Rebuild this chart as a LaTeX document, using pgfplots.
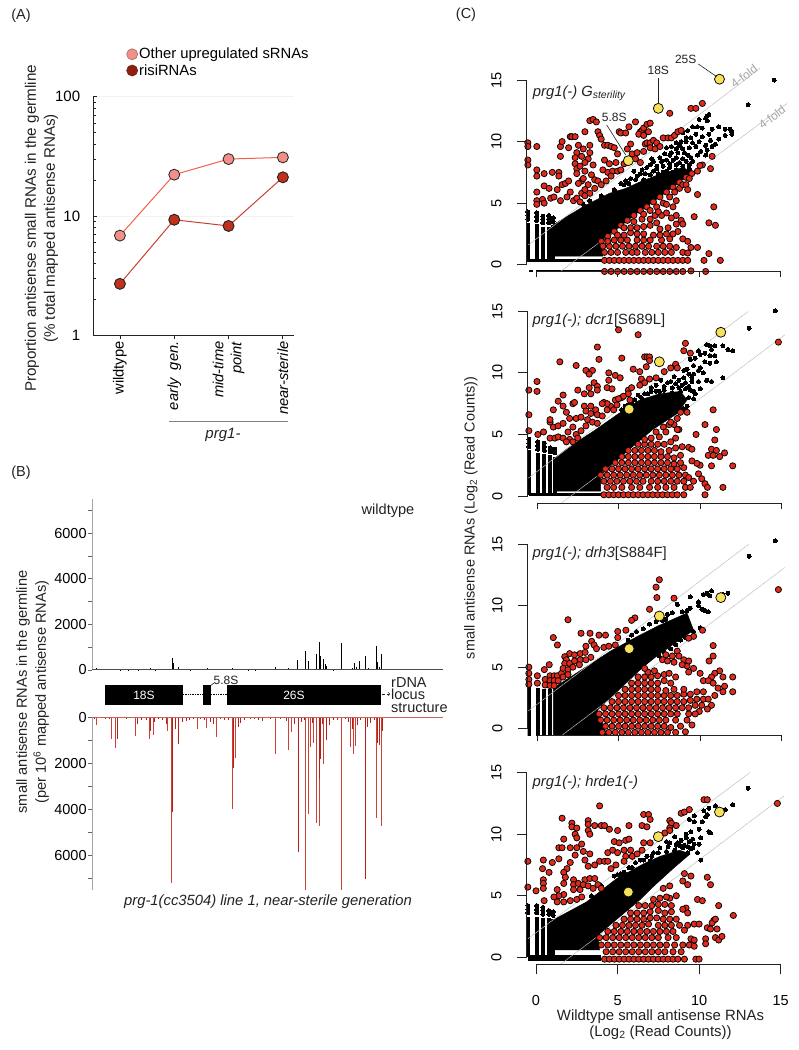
\documentclass[border=0pt]{standalone}
\usepackage{fontspec}
\setmainfont{Liberation Sans}
\usepackage{pgfplots}
\pgfplotsset{compat=1.18}
\definecolor{ptred}{HTML}{E22A1C}
\definecolor{ptyel}{HTML}{F6E15A}
\definecolor{ink}{HTML}{222222}
\definecolor{darkbar}{HTML}{B42018}
\definecolor{lightbar}{HTML}{CC4036}
\definecolor{ptpink}{HTML}{F09088}
\definecolor{HTMLrisi}{HTML}{8E2010}
\definecolor{fillrisi}{HTML}{C0301A}
\definecolor{lineone}{HTML}{F0604A}
\definecolor{linetwo}{HTML}{C84030}
\pgfplotsset{
  /pgf/number format/assume math mode=true,
  /pgf/number format/1000 sep={},
  cpanel/.style={
    anchor=origin, x=16.31pt, y=12.31pt,
    xmin=-0.57, xmax=15.4, ymin=-0.57, ymax=16.5,
    axis x line*=bottom, axis y line*=left,
    axis line style={draw=none},
    xtick={0,5,10,15}, ytick={0,5,10,15},
    tick align=outside, major tick length=10pt,
    tick style={ink, line width=0.8pt},
    yticklabel style={rotate=90, anchor=south, font=\fontsize{14.5}{15}\selectfont, inner sep=0pt, yshift=15pt},
    after end axis/.code={
      \draw[ink, line width=0.8pt] (axis cs:-0.57,0) -- (axis cs:-0.57,15);
      \draw[ink, line width=0.8pt] (axis cs:0,-0.57) -- (axis cs:15,-0.57);
    },
  },
  shortx/.style={xticklabels={}, xtick style={/pgfplots/major tick length=5.5pt}},
  redpt/.style={only marks, mark=*, mark size=3.1pt, mark options={fill=ptred, draw=black, line width=0.75pt}},
  blkpt/.style={only marks, mark=*, mark size=2pt, mark options={fill=black, draw=black, line width=0pt}},
  yelpt/.style={only marks, mark=*, mark size=5pt, mark options={fill=ptyel, draw=black, line width=0.75pt}},
  foldln/.style={gray!50, line width=0.6pt, dash pattern=on 1.5pt off 0.5pt},
  col/.style={black, line width=3.8pt},
  row/.style={black, line width=3.5pt},
}
\begin{document}
\begin{tikzpicture}
\useasboundingbox (0,0) rectangle (799pt,1050pt);

% ---- (A)
\begin{axis}[
  at={(93.3pt,714.7pt)}, anchor=south west, scale only axis, width=201pt, height=238.6pt,
  xmin=-0.49, xmax=3.21, ymode=log, ymin=1, ymax=100,
  axis x line*=bottom, axis y line*=left,
  axis line style={ink, line width=1pt},
  xtick={0,1,2,3},
  xticklabels={wildtype,{\textit{early\ \ gen.}},{\textit{mid-time}\\\textit{point}},{\textit{near-sterile}}},
  xticklabel style={rotate=90, anchor=east, align=right, font=\fontsize{14.7}{18}\selectfont, inner sep=2pt},
  ytick={1,10,100}, yticklabels={1,10,100},
  yticklabel style={font=\fontsize{15}{15}\selectfont, inner sep=0pt, xshift=-13pt},
  xtick align=outside, ytick align=inside,
  major tick length=4pt, minor tick length=3pt,
  tick style={ink, line width=0.8pt},
  ymajorgrids, major grid style={gray!10, line width=0.6pt},
  clip=false,
  legend style={at={(0.165,1.077)}, anchor=south west, draw=none, fill=none,
    font=\fontsize{14.8}{15}\selectfont, row sep=1pt, inner sep=0pt, nodes={inner sep=1.5pt}},
  legend cell align=left,
]
\addlegendimage{only marks, mark=*, mark size=5.5pt, mark options={fill=ptpink!100, draw=ptpink!70!black, line width=0.6pt}}
\addlegendimage{only marks, mark=*, mark size=5.5pt, mark options={fill=HTMLrisi, draw=HTMLrisi!80!black, line width=0.6pt}}
\legend{Other upregulated sRNAs,risiRNAs}
\addplot[forget plot, color=lineone, line width=1pt, mark=*, mark size=5.5pt, mark options={fill=ptpink, draw=ink, line width=0.8pt}]
  coordinates {(0,6.85) (1,22.2) (2,30) (3,31)};
\addplot[forget plot, color=linetwo, line width=1pt, mark=*, mark size=5.5pt, mark options={fill=fillrisi, draw=ink, line width=0.9pt}]
  coordinates {(0,2.7) (1,9.3) (2,8.25) (3,21.1)};
\end{axis}

% ---- (B) upper track
\begin{axis}[
  at={(92.3pt,380pt)}, anchor=south west, scale only axis, width=350.7pt, height=170.7pt,
  xmin=92.3, xmax=443, ymin=0, ymax=7490,
  axis x line*=bottom, axis y line*=left, xtick=\empty,
  x axis line style={draw=none},
  y axis line style={gray!70, line width=1.6pt},
  ytick={0,2000,4000,6000}, minor ytick={1000,3000,5000,7000},
  scaled y ticks=false, yticklabel style={font=\fontsize{14.5}{15}\selectfont, inner sep=0pt, xshift=-1.5pt},
  tick align=outside, major tick length=4pt, minor tick length=4pt,
  tick style={gray!80!black, line width=0.8pt}, clip=false,
]
\addplot[ycomb, no marks, black, line width=1pt] coordinates {
(94,50)(96,80)(99,40)(103,30)(108,25)(112,40)(116,30)(120,20)(124,25)(128,20)(133,25)(138,20)(143,30)(148,60)(150,70)
(155,20)(160,30)(165,25)(170,40)(172.3,510)(173.3,300)(176,60)(178,130)(180,60)(184,30)(190,20)(197,40)(203,30)(207,90)
(212,40)(216,25)(221,30)(232,90)(233.5,60)(236,30)(242,25)(248,15)(255,20)(261.7,60)(268,25)(275.7,130)(282,25)
(288.3,70)(290,40)(297.7,438)(305.7,847)(308.3,409)(311.7,40)(313.3,60)(316,686)(319,1226)(320.3,628)(323.3,467)(325,263)
(326.7,160)(328.7,60)(333.3,20)(341.3,1183)(350,50)(352,100)(354.3,292)(356,130)(359.3,380)(365,628)(368.3,70)
(376,1066)(377.3,350)(379,150)(381,686)};
\addplot[black!70, line width=1pt] coordinates {(92.3,0) (443,0)};
\end{axis}

% ---- (B) lower track
\begin{axis}[
  at={(92.3pt,160pt)}, anchor=south west, scale only axis, width=350.7pt, height=172.7pt,
  xmin=92.3, xmax=443, ymin=0, ymax=7490, y dir=reverse,
  axis x line*=top, axis y line*=left, xtick=\empty,
  x axis line style={draw=none},
  y axis line style={gray!70, line width=1.6pt},
  ytick={0,2000,4000,6000}, minor ytick={1000,3000,5000,7000},
  scaled y ticks=false, yticklabel style={font=\fontsize{14.5}{15}\selectfont, inner sep=0pt, xshift=-1.5pt},
  tick align=outside, major tick length=4pt, minor tick length=4pt,
  tick style={gray!80!black, line width=0.8pt}, clip=false,
]
\addplot[ycomb, no marks, color=lightbar, draw=lightbar, line width=1pt] coordinates {
(96,333)(111.3,954)(115.7,1316)(135,795)(149.7,925)(153,766)(167.3,578)(171.7,7200)(197.3,520)(206.7,477)(216.3,839)
(232,3977)(235.3,1750)(275.7,1576)(288.3,1417)(291.7,650)(305.7,7490)(308,4208)(310,1272)(313.3,1128)(316,4598)(319,4700)
(323.7,2039)(326,766)(341.7,7500)(350.7,1272)(353,1605)(355.3,1243)(376.3,4352)(381,4714)};
\addplot[ycomb, no marks, color=darkbar, draw=darkbar, line width=1pt] coordinates {
(94,60)(100,50)(105,70)(109,60)(117.7,954)(122,50)(126,60)(130,40)(134,50)(137.7,300)(141,120)(146,100)(150,600)(154,200)(158,80)(162,120)(166,300)
(172.3,4092)(175,500)(178.7,1157)(182,200)(186,140)(189,100)(193,80)(200,60)(204,100)(210,200)(213,300)(220,60)(224,100)(228,120)
(233,2212)(238,400)(240,250)(244,120)(250,80)(254,60)(258,100)(262,180)(270,60)(280,60)(286,150)(294,300)(298,5827)(301,200)(304,120)
(312,260)(319.5,2660)(320.5,1800)(322,300)(326,1000)(329,330)(333,120)(337,100)(345,80)(348,200)(352,500)(357,330)
(360,120)(365,7000)(367,400)(370,250)(374,100)(377.5,1100)(379,1200)(382,600)};
\addplot[darkbar!70, line width=1pt] coordinates {(92.3,0) (443,0)};
\end{axis}

% ---- (C) panel 1
\begin{axis}[cpanel, shortx, at={(536pt,785.3pt)}]
\addplot[fill=black, draw=black] coordinates {(1,0.7)(4.1,0.7)(4.1,1.9)(5,2.9)(6,4)(7,4.9)(8,5.9)(9,6.9)(9.6,7.5)(9,7.9)(7.5,7.3)(6.5,6.8)(5.5,6.2)(4.5,5.8)(3,4.8)(2,4)(1,3.2)} -- cycle;
\addplot[col] coordinates {(-0.5,0.2)(-0.5,3.4)};
\addplot[col] coordinates {(0.04,0.2)(0.04,3.3)};
\addplot[col] coordinates {(0.42,0.2)(0.42,3.1)};
\addplot[col] coordinates {(0.78,0.2)(0.78,3.1)};
\addplot[col] coordinates {(1.05,0.2)(1.05,3.2)};
\addplot[row] coordinates {(-0.5,0.35)(4.2,0.35)};
\addplot[row] coordinates {(-0.4,-0.55)(-0.2,-0.55)};
\addplot[row] coordinates {(0,-0.55)(4.2,-0.55)};
\addplot[blkpt] coordinates {
(-0.5,3.7)(-0.5,4)(-0.5,4.3)(0.04,3.6)(0.04,3.9)(0.04,4.2)(0.42,3.4)(0.42,3.7)(0.42,3.95)(0.78,3.4)(0.78,3.7)(0.78,4)(1.05,3.5)(1.05,3.8)
(10.5,12.1)(10.6,12.2)(10.4,11.9)(10.5,11.7)(10,11.8)(9.6,11.2)(9.9,11.2)(10.2,11.1)(10.8,11)(11.2,11.2)(11.6,11)(11.9,11)(12,10.8)(12,10.6)
(11.6,10.5)(11.2,10.2)(10.6,10.6)(10.2,10.4)(9.8,10.6)(9.3,10.9)(9,10.7)(9.2,10.3)(8.9,10)(8.6,9.9)(8.3,9.6)(8.6,9.4)(9,9.4)(9.4,9.5)(9.8,9.6)
(10.1,9.2)(10.5,9.3)(10.8,9.6)(11,9.8)(10.4,8.9)(9.9,8.9)(9.5,8.7)(9,8.6)(8.6,8.7)(8.2,8.9)(7.9,9)(7.6,8.7)(7.2,8.4)(7,8.1)(7.4,8)(7.8,8)(8.2,8.2)
(8.6,8.1)(9,8)(9.4,8.1)(7.2,7.6)(7.5,7.4)(8,7.6)(8.4,7.5)(8.8,7.4)(6.5,7.7)(6.7,7.4)(6.2,7.2)(6,7.6)(5.8,7)(5.5,6.8)(5.2,6.6)(6.6,6.9)(7.1,6.9)(7.9,7.1)
(8.5,7)(9.1,7.5)(9.6,9.9)(8.5,10.6)(8,9.5)(13,13)(14.6,15)(2.9,4.9)(3.3,5.2)(4,5.6)(4.8,6.1)(5,5.8)
(7.7,8.4)(8,8.5)(8.4,8.5)(8.8,8.3)(9.2,8.4)(9.6,8.4)(7,7.3)(7.4,7.8)(7.8,7.5)(8.2,7.9)(8.6,7.7)(9,7.7)(9.4,7.8)(6.8,7.9)(7.1,8.6)(6.4,7.4)(6.1,6.9)(5.7,6.6)(5.4,6.5)(8.3,9.1)(8.7,9.1)(9.1,9.1)(9.3,8.9)(8.8,9.7)(9.2,10)(9.5,10.3)(10,10)(10.4,9.7)(10.7,10.1)};
\addplot[foldln] coordinates {(-0.47,1.6)(13.74,15.96)};
\addplot[foldln] coordinates {(1.47,-0.57)(15.4,13.1)};
\addplot[redpt] coordinates {
(-0.5,9.9)(-0.5,9.6)(-0.5,8.5)(-0.5,8.1)(0.05,9.6)(0.05,7.7)(0.05,7.2)(0.5,7.4)(1,7.5)(1.4,7.5)(1.4,7.2)(0.05,5.9)(0.5,6.4)(0.8,6.2)(0.05,5.2)(0.05,4.9)(0.4,5.3)(0.5,5)(0.9,5.4)(1.1,5.5)(1.3,6.1)(1.5,5.2)(1.6,6.5)(1.8,6.6)(2,6.8)(2.1,5.9)(1.9,5.5)(2.3,5.2)(2.5,5.4)(2.7,5.1)(2.8,5.8)(3,5.6)
(1.5,8.8)(1.5,9.6)(1.6,10)(2.1,10.4)(2.2,10.4)(2.4,10.4)(2,9.5)(2.6,9.7)(2.5,9.1)(2.4,8.7)(2.4,8.2)(2.5,7.8)(2.5,7.4)(3,10.8)(3.3,11.7)(3.5,11.8)(3.7,11.6)(3.8,10.8)(3.9,10.5)(4,10.2)(3.3,9.7)(3.3,9.1)(3.2,8.6)(3,8.3)(3.5,8.1)(2.8,8.8)(2.9,9.4)(2.7,8)(3,7.6)(3.4,7.3)(3.6,6.9)(3.2,6.5)(2.8,6.8)(2.9,7)(2.6,6.6)
(4.2,9.7)(4.4,9.7)(4.6,9.6)(4.8,9.5)(5,9)(4.2,8.5)(4.5,8.2)(4.9,8.3)(4.1,7.7)(4.4,7.5)(4.7,7.6)(5,7.6)(5.2,7.7)(3.8,6.8)(4,6.5)(4.3,6.8)(4.6,7.2)(3.6,6.2)(3.3,5.8)(3,6.1)(5.1,10.8)(5.2,10.7)(5.5,10.7)(5.7,11.2)(6.1,11.6)(6.4,10.8)(6.5,10.9)(6.6,11.1)(6.8,11.4)(7,11.5)(6.3,10.6)(6.6,10.5)(6.9,10.8)(5.8,9.8)(5.6,9.4)(5.9,9)(6.2,9.1)(6.6,9.2)(6.7,9.8)(6.8,9.9)(7,9.9)(7.2,10.1)(7.4,9.9)(7,9.5)(7.3,9.4)(7.6,9.6)(7.8,10.3)(6.1,8.6)(6.4,8.3)(5.4,8.2)
(8.2,12.3)(9.5,12.7)(9.8,12.7)(10.2,13.1)(8.1,10.3)(8.3,10.3)(8.5,10.5)(8.7,10.8)(8.9,10.9)(10.8,8.8)(10.7,7.8)(10.2,8.1)(10.05,8.05)(9.9,7.6)(9.55,7.4)
(4,1.9)(4.4,2.3)(4.8,2.7)(5.2,3.2)(5.6,3.6)(6,4)(6.4,4.4)(6.8,4.7)(7.2,5.1)(7.6,5.5)(8,5.9)(8.4,6.3)(8.8,6.7)(9.2,7.1)(9.4,7)(8.8,6.2)(9,6.5)(8.5,5.9)(8.2,5.5)(7.8,5)(7.4,4.7)(7,4.4)(9.2,6.5)(9.3,6.1)
(10.9,4.7)(10.6,3.4)(11,3.2)(9.7,3.9)(9.9,5.7)(11.3,0.35)(10.3,0.35)(10.6,0.9)(9.5,1.4)(9.9,1.4)(8.6,4)(8.9,3.6)(9,3.3)(8.3,3.8)(8.1,3)(8.7,2.7)(9,2.1)(9.3,1.9)(8.6,1.4)(9,1.0)(9.3,0.95)
(4.2,0.35)(4.5,0.35)(4.8,0.35)(5.1,0.35)(5.4,0.35)(5.7,0.35)(6,0.35)(6.3,0.35)(6.6,0.35)(6.9,0.35)(7.2,0.35)(7.5,0.35)(7.8,0.35)(8.1,0.35)(8.4,0.35)(8.7,0.35)(9,0.35)(9.3,0.35)
(4.2,1)(4.6,1)(5,1)(5.5,1)(5.9,1)(6.2,1)(6.7,1)(7.1,1)(7.5,1)(7.9,1)(8.3,1)
(4.1,1.5)(4.5,1.5)(4.9,1.5)(5.3,1.5)(5.7,1.5)(6.1,1.5)(6.5,1.5)(6.9,1.5)(7.4,1.5)(7.8,1.5)(8.2,1.5)
(4.4,1.9)(4.8,2)(5.2,2)(5.6,2)(6.2,2)(6.6,2)(7,2)(7.7,2)(8.2,2.1)
(5,2.4)(5.4,2.4)(5.8,2.6)(6.2,2.5)(6.6,2.5)(7.2,2.4)(7.6,2.4)(8,2.5)(8.4,2.5)
(5.4,3)(5.8,3)(6.2,3)(6.6,3.1)(7,3.2)(7.4,3.4)(7.6,2.9)
(6,3.5)(6.5,3.7)(7,3.7)(7.3,4)(7.7,4)(8,4.2)(7.5,4.3)(6.6,4.1)(8.4,4.7)(8.6,5.2)(8,4.9)(8.6,3.3)
(9.5,-0.5)(4.2,-0.55)(4.6,-0.55)(5,-0.55)(5.4,-0.55)(5.8,-0.55)(6.2,-0.55)(6.6,-0.55)(7,-0.55)(7.4,-0.55)(7.8,-0.55)(8.2,-0.55)(8.6,-0.55)(9,-0.55)(10.4,-0.55)};
\addplot[yelpt] coordinates {(5.66,8.45)(7.5,12.7)(11.25,15.07)};
\end{axis}

% ---- (C) panel 2
\begin{axis}[cpanel, shortx, at={(537pt,554pt)}]
\addplot[fill=black, draw=black] coordinates {(1,0.4)(3.9,0.4)(3.9,1.7)(5.5,3.6)(7.1,5.4)(8.6,6.7)(9.2,7.8)(8.8,8.5)(7.5,8.3)(6.3,7.8)(4.9,6.6)(3.5,5.3)(2,4)(1,3)} -- cycle;
\addplot[col] coordinates {(-0.5,0.1)(-0.5,3.7)};
\addplot[col] coordinates {(0.04,0.1)(0.04,3.5)};
\addplot[col] coordinates {(0.45,0.1)(0.45,3.4)};
\addplot[col] coordinates {(0.8,0.1)(0.8,3.3)};
\addplot[col] coordinates {(1.08,0.1)(1.08,3.2)};
\addplot[row] coordinates {(-0.5,0.12)(4.1,0.12)};
\addplot[blkpt] coordinates {
(-0.5,4)(-0.5,4.3)(-0.5,4.6)(0.04,3.8)(0.04,4.1)(0.04,4.4)(0.45,3.7)(0.45,4)(0.45,4.3)(0.8,3.6)(0.8,3.9)(1.08,3.5)(1.08,3.8)
(10.6,12.2)(10.4,12.3)(10.7,11.9)(10.9,12.2)(10.9,11.4)(10.6,11.4)(10.3,11.6)(10,11.5)(9.9,11.8)(9.7,11.2)(9.4,11.1)(9.6,10.6)(9.2,10.3)(9,10.2)(9.3,9.9)(9.6,9.9)(10,10.4)(10.3,10.9)(10.6,10.8)(11,10.9)(11.4,12.2)(11.7,11.9)(12,11.8)(11.4,9.6)
(10.7,9.3)(10.4,9.4)(9.9,9.3)(9.5,9.3)(9.1,9.2)(8.7,9.4)(8.4,9.7)(8,9.2)(7.6,9.4)(7.3,9)(7,8.8)(7.8,8.6)(8.3,8.8)(8.7,8.8)(9.1,8.7)(9.4,8.6)(9.7,8.3)(9.6,7.9)(9.3,8)(7,8.5)(6.6,8.3)(6.2,8.2)(5.8,7.6)(5.4,7.3)(7.5,8.5)(13,13.63)(14.6,15.04)
(8.2,9.3)(8.5,9.1)(8.9,9)(9.3,8.9)(7.3,8.5)(7.8,8.9)(8.3,8.4)(8.8,8.5)(6.8,8.3)(6.4,8)(6,7.8)(5.6,7.4)(5.2,7)(9.5,9.6)(9,9.6)(10.2,10)(9.9,10.2)(9.6,8.5)(10,8.7)(9.2,7.3)(9,7.1)(8.6,6.3)};
\addplot[foldln] coordinates {(-0.53,1.45)(12.95,15)};
\addplot[foldln] coordinates {(1.5,-0.57)(15.2,13.1)};
\addplot[redpt] coordinates {
(5,13.5)(6.2,13.1)(3.7,12.1)(3.8,11.1)(5.2,11.2)(1.4,10.9)(2.4,10.6)(-0.5,8.6)(0,9.3)(0,8.5)(-0.5,6.6)(-0.5,5.3)(0.05,5)(0.4,5.2)
(3,10.2)(3.4,10.2)(3.2,9.9)(4.4,10)(4.8,9.8)(5.1,9.6)(4.4,9.4)(3.5,9.2)(3.7,8.9)(3.7,8.6)(3.2,8.8)(3.3,8.3)(4.3,8.8)(4.6,8.7)(5.6,8.6)(2.5,8.6)(2.9,8.3)(1.6,8.2)(1.3,7.7)(1.6,7.3)(2.2,7.5)(2.3,7.6)(1,7)(1.8,6.8)(0.8,6)(0.8,6.2)(1,5.6)(1.3,5.7)(1.6,5.9)(2,6.3)(2.4,6.3)(2.7,6.4)(2.9,7.3)(3,6.9)(3.3,7.3)(3.6,7)(3.1,6.2)(3.3,6.7)(3.7,6.6)(4,6.5)(4.1,7.6)(4.5,7.3)(4.8,7.8)(5.2,8)(5.7,7.8)(4.7,7)(4.3,7)
(0.8,4.7)(1.1,4.7)(1.3,4.8)(1.6,4.7)(1.9,5.2)(2.2,5.6)(2.4,5)(2.7,5.3)(3,5.7)(2.5,4.7)(2,4.6)(3.4,6)(3.7,5.9)(2.2,4.4)(1.8,4.4)
(6.6,11.3)(6.75,11.3)(6.9,11.3)(6.9,11)(5.9,10.3)(6.3,10.1)(6.7,10.5)(7.8,10.1)(8.5,10.7)(8.2,10.4)(8.6,10.4)(6.4,9.5)(6.6,9.2)(6.9,9.5)(7.3,9.6)(6.3,9)(5.8,8.8)(5.6,8.3)(5.3,8.1)(5,7.9)(4.9,7.4)(4.3,7.5)(4,7.5)
(9.1,12.4)(9,11.8)(9.4,11.6)(14.8,12.5)
(10.8,7)(10.3,5.8)(11,5.4)(9.75,5)(10.9,4.55)(10.7,3.8)(11,3.7)(11.5,3.5)(11.2,3.2)(10.5,3.3)(10.8,3.3)(10.7,2.45)(12,2.45)(11.4,0.7)(10.3,1)(10.45,0.7)(10.3,0.1)(10.1,1.4)(9.6,1.2)(9.9,1.8)(10,2.5)(9.8,2.65)(9.5,2.85)(9.3,3.95)(9.5,3.8)(8.8,3.3)(8.7,5.4)(8.4,5.8)(8.1,5.8)(8.8,6.8)(9.2,6.8)(8.6,6.3)(8.2,6)(7.75,5.6)
(4.1,0.1)(4.4,0.1)(4.7,0.1)(5,0.1)(5.3,0.1)(5.6,0.1)(5.9,0.1)(6.2,0.1)(6.5,0.1)(6.8,0.1)(7.1,0.1)(7.4,0.1)(7.7,0.1)(8,0.1)(8.3,0.1)(8.6,0.1)(9,0.1)
(4.3,0.7)(4.7,0.7)(5.2,0.7)(5.8,0.7)(6.3,0.7)(6.9,0.7)(7.4,0.7)(7.9,0.7)(8.4,0.7)(9.1,0.7)(9.4,0.7)
(4.1,1.2)(4.5,1.2)(4.9,1.2)(5.3,1.2)(5.7,1.2)(6.1,1.2)(6.5,1.2)(7,1.2)(7.4,1.2)(7.8,1.2)(8.2,1.2)(8.6,1.2)(9,1.2)
(3.9,1.7)(4.3,1.7)(4.7,1.7)(5.1,1.7)(5.5,1.7)(5.9,1.7)(6.3,1.7)(6.7,1.7)(7.1,1.7)(7.5,1.7)(7.9,1.7)(8.3,1.7)(8.7,1.7)(9.1,1.7)(9.3,1.5)
(4.2,2.2)(4.6,2.2)(5,2.2)(5.4,2.2)(5.8,2.2)(6.2,2.2)(6.6,2.2)(7,2.2)(7.4,2.2)(7.8,2.2)(8.2,2.2)(8.6,2.2)(9,2.3)
(4.8,2.7)(5.2,2.7)(5.6,2.7)(6,2.7)(6.4,2.7)(6.8,2.7)(7.2,2.7)(7.6,2.7)(8,2.7)(8.4,2.6)(8.8,2.7)
(5.2,3.2)(5.6,3.2)(6,3.2)(6.4,3.2)(6.8,3.2)(7.2,3.2)(7.6,3.2)(8,3.2)(8.4,3.1)
(5.6,3.7)(6,3.7)(6.4,3.7)(6.8,3.7)(7.2,3.7)(7.6,3.6)(8.1,3.7)(8.5,3.9)(8.9,4)
(6.2,4.2)(6.6,4.2)(7,4.2)(7.4,4.2)(7.8,4.2)(8.2,4.4)(8.5,4.7)(6.6,4.6)(7,4.7)(7.5,4.8)(7.3,5.2)(7.9,5.2)(8.6,5.4)};
\addplot[yelpt] coordinates {(5.65,7.05)(7.5,10.9)(11.27,13.3)};
\end{axis}

% ---- (C) panel 3
\begin{axis}[cpanel, shortx, at={(537pt,321.3pt)}]
\addplot[fill=black, draw=black] coordinates {(1,-0.57)(4.3,-0.57)(3.7,1.5)(6.5,5)(7.3,5.85)(8.4,6.9)(9.6,8)(9.2,9.4)(7.5,8.4)(6.3,7.6)(4.5,6.3)(1,3.3)} -- cycle;
\addplot[col] coordinates {(-0.5,-0.57)(-0.5,3.7)};
\addplot[col] coordinates {(0.04,-0.57)(0.04,3.3)};
\addplot[col] coordinates {(0.45,-0.57)(0.45,3.2)};
\addplot[col] coordinates {(0.8,-0.57)(0.8,3.2)};
\addplot[blkpt] coordinates {
(14.6,15.25)(13,14)(10.7,11.2)(10.4,11)(10.2,10.9)(10.6,10.8)(9.4,10.7)(8.6,10.1)(9.9,10.3)(9.9,10)(10.1,9.7)(10.3,9.6)(10.5,9.5)(9.4,9.8)(9.2,9.6)(8.3,9.4)(8,9.3)(8.9,9.5)(7.7,8.8)(7.3,8.7)(6.9,8.5)(6.5,8.1)(6.1,7.9)(5.8,7.6)(5.6,7.2)(8.8,8.6)(9.6,7.9)(10,8.2)(9.1,7.4)(8.8,7.2)(8.5,6.8)(8.2,6.5)(7.8,6.2)(7.5,5.9)(11.4,10.9)(11.7,11)(7.9,8.9)};
\addplot[foldln] coordinates {(-0.53,1.45)(13,15)};
\addplot[foldln] coordinates {(1.5,-0.57)(15.2,13.1)};
\addplot[redpt] coordinates {
(7.5,12.1)(7.3,11.5)(7.35,10.65)(8.4,10.6)(6.9,9.7)(6,9)(5.8,8.8)(1.9,8.85)(4.95,7.9)(4.95,7.4)(5.45,8)(2.7,7.75)(3.25,7.75)(3.8,7.6)(4.2,7.6)(1,7.4)(1.25,6.8)(3.35,7.1)(3.5,6.8)(3,6.7)(3.65,6.5)(4.1,6.6)(4.4,6.7)(4.8,6.8)
(10.15,8)(9.6,7.5)(9.3,7.35)(10.8,6.75)(10.8,5.9)(10.55,5.5)(12,4.2)(12,3)(11.5,3.45)(11.4,3)(11.2,4.7)(10.9,4.5)(11.4,4.2)(10.7,4.2)(10.2,3.9)(10.5,3.9)(10.8,3.7)(11.1,3.3)(10.9,2.7)(10.7,1.9)(10.45,1.6)(9.95,1.4)(9.5,0.3)(9.1,-0.25)
(-0.5,5)(-0.5,4.5)(-0.5,4)(-0.5,3.6)(0.02,4.3)(0.02,3.7)(0.75,5.2)(0.45,4.8)(0.5,4)(0.5,3.55)(0.8,4.3)(1.05,4.3)(1.25,4.3)(1.5,4.5)(0.8,3.9)(1.05,3.9)(1.3,3.9)(0.8,3.5)(1.05,3.5)(1.7,5.85)(1.8,5.6)(2,6.1)(1.7,5.3)(2,5.3)(2.3,6)(2.65,6.1)(2.95,6.2)(2.3,5.5)(2.65,5.6)(1.6,4.9)(1.9,4.8)(2.2,5)(2.6,5.2)(3,5.6)(3.3,5.8)(1.6,4.2)(1.9,4.4)
(8.6,6.3)(8.3,5.9)(8.7,5.9)(9,5.6)(9.2,5.1)(8.9,5.2)(7.9,6)(7.7,5.6)(8,5.5)(8.4,5.4)(9.3,5.5)(9.6,4.9)(9.3,4.6)(10,4.5)
(4,-0.3)(4.4,-0.3)(4.8,-0.3)(5.2,-0.3)(5.6,-0.3)(6,-0.3)(6.4,-0.3)(6.8,-0.3)(7.2,-0.3)(7.6,-0.3)(8,-0.3)(8.5,-0.3)
(4.2,0.2)(4.6,0.2)(5,0.2)(5.4,0.2)(5.8,0.2)(6.2,0.2)(6.6,0.2)(7,0.2)(7.4,0.2)(7.8,0.2)(8.2,0.1)(8.8,0.2)
(3.9,0.7)(4.3,0.7)(4.7,0.7)(5.1,0.7)(5.5,0.7)(5.9,0.7)(6.3,0.7)(6.7,0.7)(7.1,0.7)(7.5,0.7)(7.9,0.7)(8.5,0.7)(9.2,0.7)
(3.8,1.2)(4.2,1.2)(4.6,1.2)(5,1.2)(5.4,1.2)(5.8,1.2)(6.2,1.2)(6.6,1.2)(7,1.2)(7.4,1.2)(7.8,1.2)(8.2,1.2)(8.6,1.2)(9.3,1.2)(9.7,1.2)
(4.1,1.7)(4.5,1.7)(4.9,1.7)(5.3,1.7)(5.7,1.7)(6.1,1.7)(6.5,1.7)(6.9,1.7)(7.3,1.7)(7.7,1.7)(8.1,1.7)(8.5,1.7)(8.9,1.7)(9.3,1.7)(9.7,1.9)(10.1,1.9)
(4.6,2.2)(5,2.2)(5.4,2.2)(5.8,2.2)(6.2,2.2)(6.6,2.2)(7,2.2)(7.4,2.2)(7.8,2.2)(8.2,2.2)(8.6,2.2)(9,2.2)(9.4,2.3)(9.8,2.4)(10.2,2.4)(10.5,2.4)
(5,2.7)(5.4,2.7)(5.8,2.7)(6.2,2.7)(6.6,2.7)(7,2.7)(7.4,2.7)(7.8,2.7)(8.2,2.7)(8.6,2.7)(9,2.8)(9.4,2.8)(9.8,3)(10.2,3)
(5.4,3.2)(5.8,3.2)(6.2,3.2)(6.6,3.2)(7,3.2)(7.4,3.2)(7.9,3.1)(8.4,3.2)(9,3.2)
(5.8,3.7)(6.2,3.7)(6.6,3.7)(7,3.7)(7.4,3.7)(7.8,3.9)(8.2,3.7)
(6.2,4.2)(6.6,4.2)(7,4.2)(7.4,4.3)(7.8,4.4)(8.1,4.5)(8.5,4.2)(7.2,4.7)(6.8,4.6)(6.6,4.9)(14.8,11.3)};
\addplot[yelpt] coordinates {(5.65,6.5)(7.5,9.15)(11.27,10.65)};
\end{axis}

% ---- (C) panel 4
\begin{axis}[cpanel, at={(536pt,92.7pt)},
  xticklabel style={font=\fontsize{14.5}{15}\selectfont, inner sep=0pt, yshift=-21pt},
]
\addplot[fill=black, draw=black] coordinates {(1,0.6)(3.9,0.6)(3.8,1.8)(6.4,4.7)(7.2,5.75)(8.4,7.2)(9.45,8.4)(8.8,8.7)(7.6,8.2)(6.6,7.6)(4.95,6.4)(3.1,4.5)(1,3)} -- cycle;
\addplot[col] coordinates {(-0.5,0)(-0.5,3.3)};
\addplot[col] coordinates {(0.04,0)(0.04,3.3)};
\addplot[col] coordinates {(0.42,0)(0.42,3.2)};
\addplot[col] coordinates {(0.78,0)(0.78,3.2)};
\addplot[col] coordinates {(1.05,0)(1.05,3.1)};
\addplot[row] coordinates {(-0.5,0.05)(4,0.05)};
\addplot[row] coordinates {(-0.5,-0.15)(4,-0.15)};
\addplot[blkpt] coordinates {
(-0.5,3.6)(-0.5,3.9)(-0.5,4.2)(0.04,3.6)(0.04,3.9)(0.04,4.2)(0.42,3.5)(0.42,3.8)(0.42,4.05)(0.78,3.5)(0.78,3.8)(1.05,3.4)(1.05,3.7)
(13,13.74)(12.06,12.4)(11.6,12)(11,12.3)(10.6,12.1)(10.3,11.9)(10.4,11.4)(9.7,11.5)(9.4,11.2)(9.7,11)(10.2,11)(10.5,11.6)(10,10.4)(10.6,10.2)(10.7,10.1)(10.1,9.7)(10,9.2)(9.6,9.6)(9.2,9.7)(8.9,9.5)(8.5,9.8)(8.2,9.3)(9.6,8.9)(9.9,8.5)(9.5,8.8)(9.1,9.1)(8.6,9.1)(8.1,9)(7.6,8.9)(7.2,8.5)(6.8,8.2)(6.4,7.9)(7,7.8)(5.9,7.3)(5.4,6.9)(5,6.7)(4.8,6.6)(10.1,7.9)(9.3,8.5)(4,5.8)(3.4,5)
(9,8.9)(8.5,8.7)(8,8.6)(7.5,8.5)(7.1,8.2)(6.6,7.9)(6.1,7.7)(5.7,7.3)(5.2,6.8)(8.8,9.1)(9.3,9)(8,9.4)(8.7,9.3)(9.4,9.4)(9.7,9.2)(9.2,10)(9.5,10.2)};
\addplot[foldln] coordinates {(-0.5,1.5)(13.1,15)};
\addplot[foldln] coordinates {(1.5,-0.57)(15.2,13.1)};
\addplot[redpt] coordinates {
(-0.5,7.8)(-0.5,5.7)(0,5.4)(0.45,7.9)(0.4,7.2)(0.8,6.9)(0.45,6.3)(0.45,6)(0.45,5.6)(1,7.7)(1.4,8)(1.4,8.9)(1.6,8.9)(1.7,9.6)(1.6,11.3)(2.2,10.9)(2.2,10.6)(2.5,10.5)(2.4,10)(2.5,9.7)(3.2,11.1)(3.2,10.8)(3.2,10.3)(3.3,10)(3.6,10.7)(3.9,12.3)(4,10.7)(4.2,10.7)(4.5,10.4)(5,10.3)(2.1,8.9)(2.5,8.9)(2.8,9.2)(2.9,8.6)(3.3,8.4)(3,7.9)(2.4,8.3)(2.1,7.7)(1.9,7.2)(3.6,7.5)(3.2,7.4)(3.9,7.8)(4.2,7.8)(4.4,8.5)(4.7,8.7)(5,8.5)(4.8,9.4)(5.1,9.3)(5.5,9.5)(5.7,9.6)(4.9,7.5)(4.6,7.2)(4.4,7.8)(5.4,8.7)(5.8,8.7)(5.5,8.2)(5.9,8.2)(5.4,7.8)(6.2,8.4)(6.5,8.7)
(1.7,6.9)(1.8,6.5)(1.7,6)(2.3,6.3)(2.3,5.9)(2.6,6)(3,6.3)(3.3,6.4)(3.6,6.4)(2.9,5.9)(3.2,5.8)(3.5,5.6)(3.8,5.9)(4,5.6)(2.7,5.5)(2.3,5.5)(1.7,5.1)(1.4,5)(1.3,5.5)(1.1,4.9)(0.5,4.6)(1.3,4.5)(1.7,4.5)(2.1,4.6)(2.5,4.7)(2.8,4.9)
(5.7,10.7)(6.5,10.7)(6.8,10.6)(6.6,11.6)(6.9,11.6)(7,11.2)(8.2,11.1)(8.3,10.9)(8.2,10.5)(8.6,10.7)(7.9,10.1)(8.2,10.3)(8.9,11.7)(9.1,11.8)(9.4,12)(10.3,12.8)(10.5,12.8)(14.8,12.5)(7,9.3)(6.6,9.3)
(10.5,6.5)(10.7,5.9)(9.1,6.8)(9.5,6.6)(9,6.2)(9.3,5.9)(8.6,5)(8.2,4.8)(7.8,5.6)(8.2,5.8)(9.9,4.7)(10.2,4.6)(11.2,4.2)(12.1,3.4)(9.2,4)(9,3.9)(9.3,3.6)(10.9,3)(10.8,2.8)(11,3.1)(10.5,2.4)(10.7,2.3)(11.1,2.3)(9.7,2.7)(10,2.7)(9.3,2.6)(8.8,2.6)(9.1,2.2)(10.4,1.5)(10.4,1.1)(9.5,1.5)(9.7,1.4)(11,1.6)(11.2,1.4)(11.4,1.7)(9.4,1)(9.7,0.9)(9.8,-0.15)(10,-0.15)
(4.2,-0.15)(4.5,-0.15)(4.8,-0.15)(5.1,-0.15)(5.4,-0.15)(5.7,-0.15)(6,-0.15)(6.3,-0.15)(6.6,-0.15)(6.9,-0.15)(7.2,-0.15)(7.5,-0.15)(7.8,-0.15)(8.1,-0.15)(8.4,-0.15)(8.7,-0.15)(9.1,-0.15)
(4.3,0.45)(4.7,0.45)(5.1,0.45)(5.5,0.45)(5.9,0.45)(6.3,0.45)(6.7,0.45)(7.1,0.45)(7.5,0.45)(7.9,0.45)(8.4,0.45)(8.9,0.45)
(4,1)(4.4,1)(4.8,1)(5.2,1)(5.6,1)(6,1)(6.4,1)(6.8,1)(7.2,1)(7.6,1)(8,1)(8.5,1)(9,1)
(3.9,1.6)(4.3,1.6)(4.7,1.6)(5.1,1.6)(5.5,1.6)(5.9,1.6)(6.3,1.6)(6.7,1.6)(7.1,1.6)(7.5,1.6)(8.1,1.6)(8.6,1.6)
(4.4,2.1)(4.8,2.1)(5.2,2.1)(5.6,2.1)(6,2.1)(6.4,2.1)(6.8,2.1)(7.2,2.1)(7.6,2.1)(8,2.1)(8.4,2.1)
(4.9,2.6)(5.3,2.6)(5.7,2.6)(6.1,2.6)(6.5,2.6)(6.9,2.7)(7.5,2.6)(7.9,2.6)(8.3,2.6)
(5.4,3.1)(5.8,3.1)(6.2,3.1)(6.6,3.1)(7,3.2)(7.4,3.2)(7.8,3.1)(8.2,3.1)(8.6,3.1)
(5.8,3.6)(6.2,3.6)(6.6,3.6)(7,3.7)(7.5,3.8)(7.9,3.6)(8.3,3.7)
(6.3,4.2)(6.7,4.2)(7.1,4.2)(7.5,4.3)(7.9,4.3)(8.3,4.2)(7.2,4.7)(7.6,4.8)(8,4.9)};
\addplot[yelpt] coordinates {(5.66,5.3)(7.5,9.8)(11.25,11.8)};
\end{axis}

% ---- annotations, coordinates in reference pixels
\begin{scope}[x=1pt, y=-1pt, shift={(0,1050pt)}, text=ink]
  \node[font=\fontsize{14.5}{15}\selectfont] at (21,16) {(A)};
  \node[font=\fontsize{14.5}{15}\selectfont] at (21,473) {(B)};
  \node[font=\fontsize{14.5}{15}\selectfont] at (466,15) {(C)};

  % A
  \node[rotate=90, align=center, font=\fontsize{15.2}{19}\selectfont] at (41.5,228.5)
    {Proportion antisense small RNAs in the germline\\(\% total mapped antisense RNAs)};
  \draw[gray, line width=1pt] (169,422) -- (288,422);
  \node[font=\fontsize{15}{15}\selectfont\itshape] at (223,435) {prg1-};

  % B
  \node[rotate=90, align=center, font=\fontsize{14.6}{19}\selectfont] at (32.5,692)
    {small antisense RNAs in the germline\\(per 10\textsuperscript{6} mapped antisense RNAs)};
  \node[font=\fontsize{14.6}{15}\selectfont] at (388,511) {wildtype};
  \node[font=\fontsize{14.8}{15}\selectfont\itshape] at (268,902) {prg-1(cc3504) line 1, near-sterile generation};
  \fill[black] (105.3,685.3) rectangle (182.7,704.7);
  \fill[black] (203.3,685.3) rectangle (210.7,704.7);
  \fill[black] (226.7,685.3) rectangle (381,704.7);
  \draw[black, densely dotted, line width=0.7pt] (183,694) -- (203,694) (211,694) -- (226.5,694);
  \node[white, font=\fontsize{12}{13}\selectfont] at (144,695.5) {18S};
  \node[white, font=\fontsize{12}{13}\selectfont] at (294,695.5) {26S};
  \node[font=\fontsize{12}{13}\selectfont] at (226,680) {5.8S};
  \draw[black, line width=0.5pt] (210,686) -- (214,683);
  \draw[ink, densely dashed, -to, line width=0.6pt] (382,694) -- (390,694);
  \node[anchor=west, inner sep=0pt, align=left, font=\fontsize{14.5}{12.6}\selectfont] at (391,695) {rDNA\\locus\\structure};

  % C
  \node[rotate=90, font=\fontsize{14.4}{15}\selectfont] at (471,518) {small antisense RNAs (Log\textsubscript{2} (Read Counts))};
  \node[font=\fontsize{14.9}{15}\selectfont] at (660.5,1016.7) {Wildtype small antisense RNAs};
  \node[font=\fontsize{14.9}{15}\selectfont] at (660.5,1032.7) {(Log\textsubscript{2} (Read Counts))};
  \node[anchor=west, inner sep=0pt, font=\fontsize{14.8}{14}\selectfont] at (532.7,93) {\textit{prg1(-) G\textsubscript{sterility}}};
  \node[anchor=west, inner sep=0pt, font=\fontsize{14.8}{14}\selectfont] at (532.5,320.7) {\textit{prg1(-); dcr1}[S689L]};
  \node[anchor=west, inner sep=0pt, font=\fontsize{14.8}{14}\selectfont] at (532.5,554) {\textit{prg1(-); drh3}[S884F]};
  \node[anchor=west, inner sep=0pt, font=\fontsize{14.8}{14}\selectfont] at (532.5,783) {\textit{prg1(-); hrde1(-)}};
  \node[font=\fontsize{12}{13}\selectfont] at (685.7,59.3) {25S};
  \draw[ink, line width=0.6pt] (698.3,64) -- (716.7,76.7);
  \node[font=\fontsize{12}{13}\selectfont] at (658.3,70.7) {18S};
  \draw[ink, line width=0.6pt] (658.7,78.3) -- (658.7,104);
  \node[font=\fontsize{12}{13}\selectfont] at (614.3,117.7) {5.8S};
  \draw[ink, line width=0.6pt] (606.7,125) -- (625.7,155);
  \node[rotate=37, text=gray!70, font=\fontsize{12}{13}\selectfont] at (744,76) {4-fold};
  \node[rotate=37, text=gray!70, font=\fontsize{12}{13}\selectfont] at (772,117) {4-fold};
\end{scope}
\end{tikzpicture}
\end{document}
